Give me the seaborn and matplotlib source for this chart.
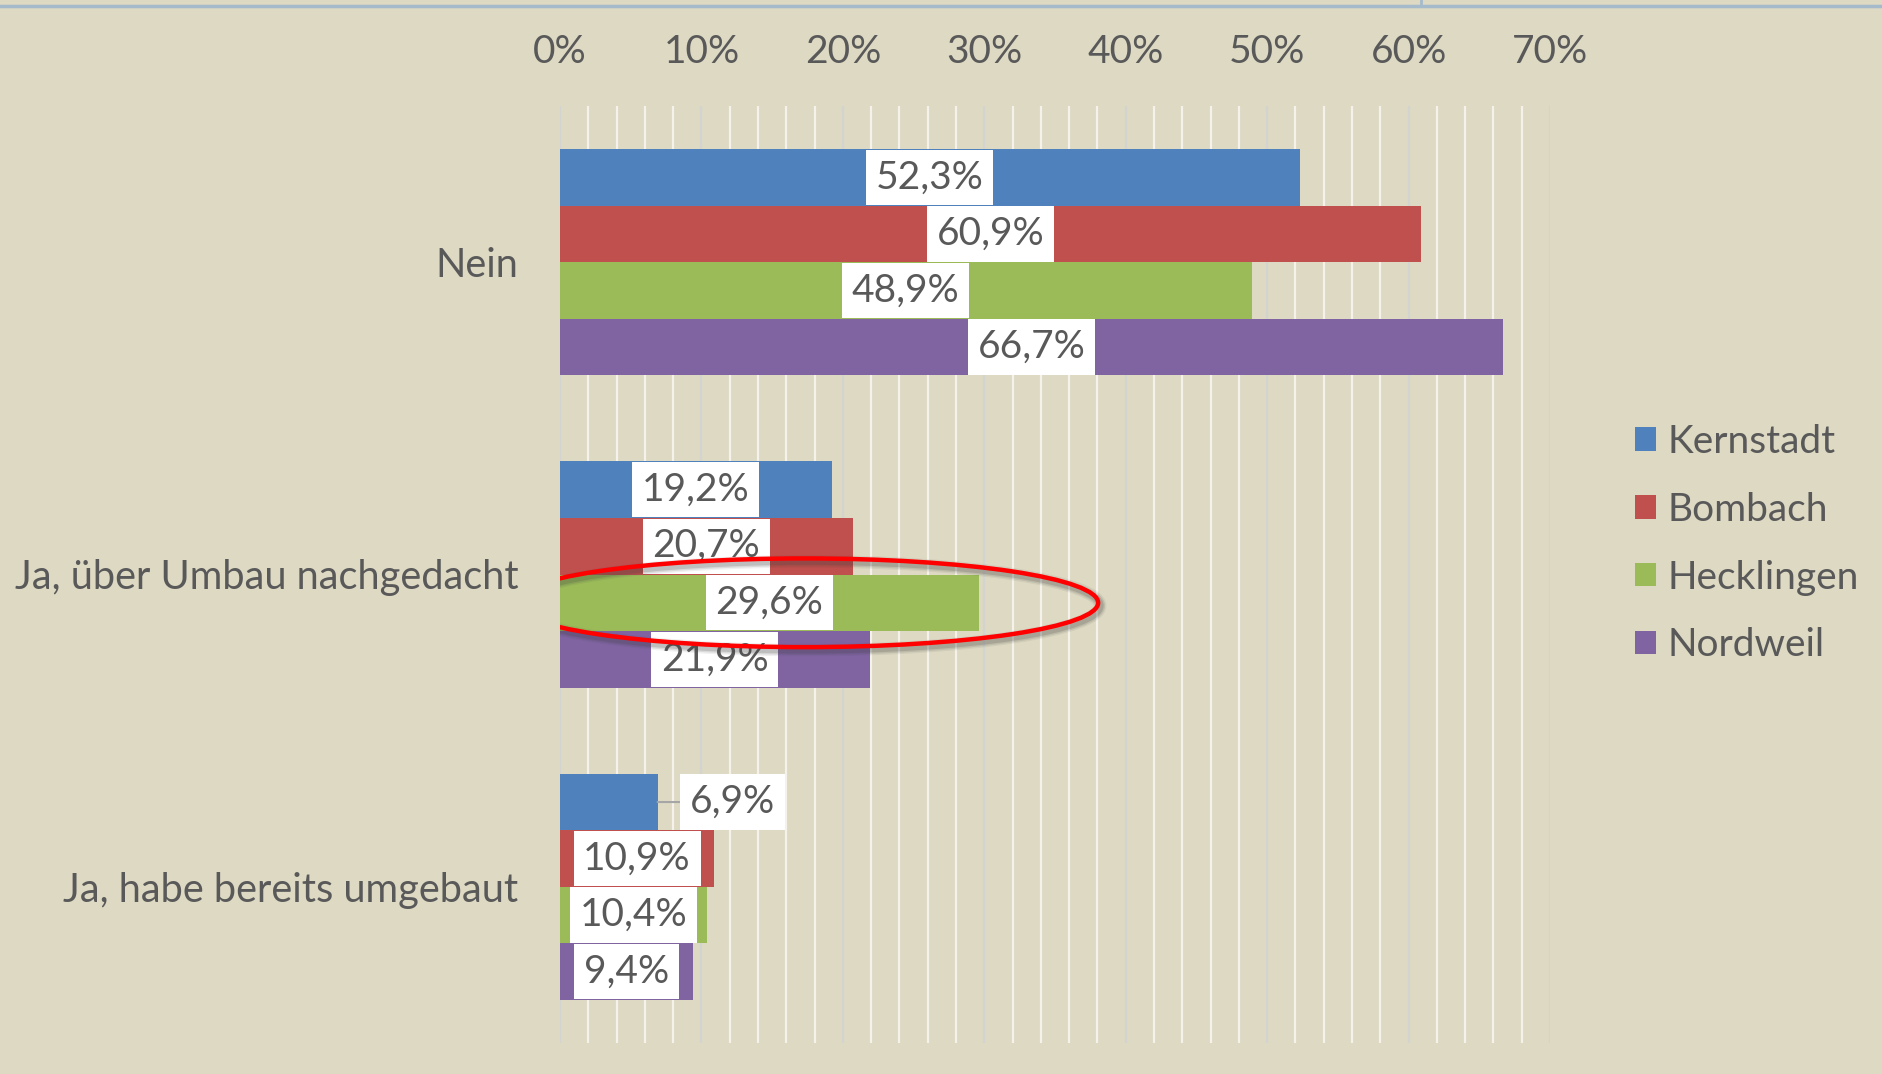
import numpy as np
import pandas as pd
import matplotlib.pyplot as plt
import seaborn as sns
from matplotlib.patches import Ellipse
from matplotlib.lines import Line2D
from matplotlib.ticker import MultipleLocator, FixedLocator
import matplotlib.transforms as mtransforms

# data
answers = ["Nein", "Ja, über Umbau nachgedacht", "Ja, habe bereits umgebaut"]
districts = ["Kernstadt", "Bombach", "Hecklingen", "Nordweil"]
kernstadt = [52.3, 19.2, 6.9]
bombach = [60.9, 20.7, 10.9]
hecklingen = [48.9, 29.6, 10.4]
nordweil = [66.7, 21.9, 9.4]
x_ticks = [0, 10, 20, 30, 40, 50, 60, 70]
x_tick_labels = ["0%", "10%", "20%", "30%", "40%", "50%", "60%", "70%"]

colors = ["#4F81BD", "#C0504D", "#9BBB59", "#8064A2"]
bg = "#DDD9C3"
txt = "#595959"

df = pd.DataFrame({
    "answer": answers * 4,
    "district": np.repeat(districts, len(answers)),
    "value": kernstadt + bombach + hecklingen + nordweil,
})

plt.rcParams["font.family"] = ["Lato", "DejaVu Sans"]
FS = 28

fig = plt.figure(figsize=(18.83, 10.74), dpi=100, facecolor=bg)
W, H = 1883, 1074
ax = fig.add_axes([560 / W, 1 - 1043 / H, 990 / W, 937 / H])
ax.set_facecolor(bg)

sns.barplot(data=df, x="value", y="answer", hue="district", order=answers,
            hue_order=districts, palette=colors, saturation=1, width=0.724,
            orient="h", ax=ax, edgecolor="none", linewidth=0, zorder=2)

ax.set_xlim(0, 70)
ax.set_ylim(2.5, -0.5)
ax.set_xlabel("")
ax.set_ylabel("")
for s in ax.spines.values():
    s.set_visible(False)

# axis on top, gridlines every 2 %
ax.xaxis.tick_top()
ax.xaxis.set_major_locator(FixedLocator(x_ticks))
ax.set_xticklabels(x_tick_labels)
ax.xaxis.set_minor_locator(MultipleLocator(2))
ax.grid(which="minor", axis="x", color="#F4F2EA", lw=1.6, zorder=0)
ax.grid(which="major", axis="x", color="#D3D3D0", lw=1.6, zorder=0)
ax.grid(False, axis="y")
ax.set_axisbelow(True)
ax.tick_params(axis="x", which="both", length=0, pad=26, labelsize=FS, labelcolor=txt)
ax.tick_params(axis="y", length=0, pad=30, labelsize=FS, labelcolor=txt)
for t in ax.get_yticklabels():
    t.set_fontsize(28.6)

# data labels
box = dict(boxstyle="square,pad=0.25", fc="white", ec="none", lw=0)
for cont in ax.containers:
    for bar, v in zip(cont, cont.datavalues):
        lab = f"{v:.1f}%".replace(".", ",")
        yc = bar.get_y() + bar.get_height() / 2
        end = bar.get_x() + bar.get_width()
        if v < 8:
            ax.annotate(lab, xy=(end, yc), xytext=(23, 0), textcoords="offset points",
                        ha="left", va="center", fontsize=FS, color=txt, bbox=box,
                        arrowprops=dict(arrowstyle="-", color="#A6A6A6", lw=1.5,
                                        shrinkA=0, shrinkB=0), zorder=4)
        else:
            ax.text(end / 2, yc, lab, ha="center", va="center", fontsize=FS,
                    color=txt, bbox=box, zorder=4)

# red ellipse around the Hecklingen bar of the second group
hb = ax.containers[2][1]
ey = hb.get_y() + hb.get_height() / 2
for k, a in [(6, 0.08), (4, 0.12), (2, 0.18)]:
    shadow_tr = mtransforms.offset_copy(ax.transData, fig=fig, x=2, y=-3, units="dots")
    ax.add_patch(Ellipse((17.3, ey), 41.5, 0.284, fill=False, ec="#404040", lw=3 + k,
                         alpha=a, transform=shadow_tr, zorder=5))
ax.add_patch(Ellipse((17.3, ey), 41.5, 0.284, fill=False, ec="#FF0000", lw=3.2,
                     zorder=6))

sns.move_legend(ax, "center left", bbox_to_anchor=(1.066, 0.533), frameon=False,
                title=None, fontsize=FS, handlelength=0.55, handleheight=0.55,
                handletextpad=0.3, labelspacing=0.82, borderpad=0)
for t in ax.get_legend().get_texts():
    t.set_color(txt)

# window border strip at the top
fig.add_artist(Line2D([0, 1], [1 - 6 / H] * 2, transform=fig.transFigure,
                      color="#A5BACB", lw=2.5))
fig.add_artist(Line2D([1421 / W] * 2, [1, 1 - 6 / H], transform=fig.transFigure,
                      color="#A5BACB", lw=2))

fig.savefig("out.png", dpi=100, facecolor=bg)
